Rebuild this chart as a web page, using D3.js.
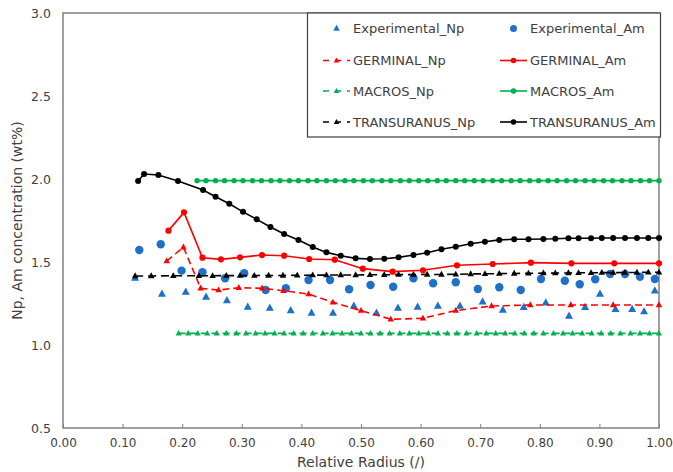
<!DOCTYPE html>
<html><head><meta charset="utf-8">
<script src="https://cdn.jsdelivr.net/npm/d3@7"></script>
<style>body{margin:0;background:#fff}svg text{font-family:"DejaVu Sans",Verdana,sans-serif}</style>
</head><body><svg id="c" width="673" height="472"></svg>
<script>
const xTicks = [0,0.1,0.2,0.3,0.4,0.5,0.6,0.7,0.8,0.9,1.0];
const yTicks = [0.5,1.0,1.5,2.0,2.5,3.0];

const expNpX = [0.121,0.166,0.206,0.240,0.275,0.310,0.347,0.382,0.417,0.453,0.488,0.526,0.562,0.595,0.629,0.666,0.704,0.738,0.773,0.810,0.849,0.876,0.901,0.927,0.955,0.975,0.993];
const expNpY = [1.404,1.307,1.319,1.289,1.268,1.229,1.223,1.208,1.193,1.193,1.235,1.193,1.223,1.229,1.235,1.235,1.261,1.211,1.227,1.255,1.175,1.227,1.307,1.215,1.215,1.201,1.327];

const expAmX = [0.128,0.164,0.199,0.234,0.272,0.304,0.340,0.374,0.412,0.448,0.480,0.516,0.554,0.588,0.621,0.659,0.696,0.732,0.768,0.802,0.842,0.867,0.893,0.918,0.943,0.968,0.993];
const expAmY = [1.572,1.607,1.448,1.438,1.402,1.432,1.331,1.342,1.392,1.392,1.336,1.361,1.351,1.402,1.372,1.378,1.337,1.348,1.331,1.398,1.387,1.366,1.396,1.428,1.428,1.411,1.398];

const gerNpX = [0.174,0.202,0.231,0.261,0.295,0.334,0.370,0.412,0.453,0.500,0.550,0.604,0.659,0.719,0.784,0.852,0.923,1.000];
const gerNpY = [1.506,1.589,1.342,1.331,1.345,1.342,1.327,1.307,1.257,1.207,1.155,1.161,1.207,1.235,1.241,1.241,1.241,1.241];

const gerAmX = [0.177,0.203,0.234,0.265,0.297,0.334,0.371,0.413,0.456,0.503,0.553,0.604,0.661,0.721,0.785,0.853,0.925,1.000];
const gerAmY = [1.689,1.799,1.526,1.516,1.528,1.542,1.538,1.518,1.514,1.460,1.442,1.450,1.480,1.488,1.496,1.492,1.492,1.492];

const macNpX = [0.194,0.210,0.226,0.242,0.258,0.274,0.291,0.307,0.323,0.339,0.355,0.371,0.387,0.403,0.419,0.436,0.452,0.468,0.484,0.500,0.516,0.532,0.548,0.565,0.581,0.597,0.613,0.629,0.645,0.661,0.677,0.694,0.710,0.726,0.742,0.758,0.774,0.790,0.806,0.823,0.839,0.855,0.871,0.887,0.903,0.919,0.935,0.952,0.968,0.984,1.000];
const macNpY = [1.07,1.07,1.07,1.07,1.07,1.07,1.07,1.07,1.07,1.07,1.07,1.07,1.07,1.07,1.07,1.07,1.07,1.07,1.07,1.07,1.07,1.07,1.07,1.07,1.07,1.07,1.07,1.07,1.07,1.07,1.07,1.07,1.07,1.07,1.07,1.07,1.07,1.07,1.07,1.07,1.07,1.07,1.07,1.07,1.07,1.07,1.07,1.07,1.07,1.07,1.07];

const macAmX = [0.225,0.240,0.256,0.271,0.287,0.302,0.318,0.333,0.349,0.364,0.380,0.395,0.411,0.426,0.442,0.457,0.473,0.488,0.504,0.519,0.535,0.550,0.566,0.581,0.597,0.612,0.628,0.643,0.659,0.674,0.690,0.705,0.721,0.736,0.752,0.767,0.783,0.798,0.814,0.829,0.845,0.860,0.876,0.891,0.907,0.922,0.938,0.953,0.969,0.984,1.000];
const macAmY = [1.99,1.99,1.99,1.99,1.99,1.99,1.99,1.99,1.99,1.99,1.99,1.99,1.99,1.99,1.99,1.99,1.99,1.99,1.99,1.99,1.99,1.99,1.99,1.99,1.99,1.99,1.99,1.99,1.99,1.99,1.99,1.99,1.99,1.99,1.99,1.99,1.99,1.99,1.99,1.99,1.99,1.99,1.99,1.99,1.99,1.99,1.99,1.99,1.99,1.99,1.99];

const truNpX = [0.121,0.148,0.185,0.228,0.251,0.274,0.297,0.321,0.345,0.369,0.393,0.419,0.442,0.466,0.491,0.515,0.539,0.563,0.588,0.611,0.635,0.659,0.684,0.708,0.732,0.757,0.781,0.806,0.826,0.848,0.865,0.886,0.904,0.923,0.943,0.963,0.982,1.000];
const truNpY = [1.416,1.416,1.417,1.417,1.417,1.418,1.418,1.418,1.419,1.419,1.420,1.421,1.421,1.422,1.422,1.423,1.423,1.424,1.424,1.425,1.425,1.426,1.428,1.429,1.430,1.431,1.432,1.433,1.433,1.434,1.435,1.435,1.436,1.436,1.437,1.437,1.438,1.438];

const truAmX = [0.126,0.136,0.160,0.193,0.235,0.256,0.279,0.302,0.325,0.348,0.371,0.395,0.419,0.442,0.466,0.491,0.515,0.539,0.563,0.588,0.611,0.635,0.659,0.684,0.708,0.732,0.757,0.781,0.806,0.826,0.848,0.865,0.886,0.904,0.923,0.943,0.963,0.982,1.000];
const truAmY = [1.988,2.030,2.024,1.988,1.934,1.893,1.851,1.802,1.757,1.711,1.669,1.633,1.590,1.558,1.538,1.522,1.518,1.520,1.528,1.542,1.556,1.577,1.592,1.610,1.622,1.633,1.637,1.637,1.639,1.640,1.643,1.643,1.643,1.645,1.645,1.645,1.645,1.645,1.645];

const BLUE = "#1f70c8", RED = "#ff0000", GREEN = "#00b050", BLACK = "#000000";
const series = [
  {name:"Experimental_Np", xs:expNpX, ys:expNpY, color:BLUE, line:false, marker:"tri", size:8},
  {name:"Experimental_Am", xs:expAmX, ys:expAmY, color:BLUE, line:false, marker:"circ", size:4.2},
  {name:"GERMINAL_Np", xs:gerNpX, ys:gerNpY, color:RED, line:true, dash:"7,4", marker:"tri", size:6.5},
  {name:"GERMINAL_Am", xs:gerAmX, ys:gerAmY, color:RED, line:true, marker:"circ", size:3.1},
  {name:"MACROS_Np", xs:macNpX, ys:macNpY, color:GREEN, line:true, dash:"7,4", marker:"tri", size:6},
  {name:"MACROS_Am", xs:macAmX, ys:macAmY, color:GREEN, line:true, marker:"circ", size:2.7},
  {name:"TRANSURANUS_Np", xs:truNpX, ys:truNpY, color:BLACK, line:true, dash:"8,5", marker:"tri", size:6.5},
  {name:"TRANSURANUS_Am", xs:truAmX, ys:truAmY, color:BLACK, line:true, marker:"circ", size:3}
];

const W = 673, H = 472;
const m = {left:63, right:14, top:13, bottom:44};
const svg = d3.select("#c");
const x = d3.scaleLinear().domain([0,1]).range([m.left, W - m.right]);
const y = d3.scaleLinear().domain([0.5,3.0]).range([H - m.bottom, m.top]);
const TXT = "#404040", AX = "#808080";

// axes
const xAxis = d3.axisBottom(x).tickValues(xTicks).tickFormat(d3.format(".2f")).tickSizeInner(-4).tickSizeOuter(0).tickPadding(10);
const gx = svg.append("g").attr("transform",`translate(0,${H - m.bottom})`).call(xAxis);
gx.select(".domain").remove();
gx.selectAll("line").attr("stroke",AX).attr("stroke-width",1);
gx.selectAll("text").attr("fill",TXT).style("font-size","12px");

const yAxis = d3.axisLeft(y).tickValues(yTicks).tickFormat(d3.format(".1f")).tickSize(0).tickPadding(12);
const gy = svg.append("g").attr("transform",`translate(${m.left},0)`).call(yAxis);
gy.select(".domain").remove();
gy.selectAll("text").attr("fill",TXT).style("font-size","12.5px");

// frame
svg.append("rect").attr("x",m.left).attr("y",m.top).attr("width",W-m.right-m.left).attr("height",H-m.bottom-m.top)
  .attr("fill","none").attr("stroke",AX).attr("stroke-width",1.5);

svg.append("text").attr("x",(m.left + W - m.right)/2).attr("y",467).attr("text-anchor","middle")
  .attr("fill",TXT).style("font-size","14px").text("Relative Radius (/)");
svg.append("text").attr("transform",`translate(22,${(m.top + H - m.bottom)/2}) rotate(-90)`).attr("text-anchor","middle")
  .attr("fill",TXT).style("font-size","14px").text("Np, Am concentration (wt%)");

function triPath(s){ const h = s*0.9; return `M0,${-h*0.62}L${s/2},${h*0.38}L${-s/2},${h*0.38}Z`; }
function drawMarker(g, mk, size, color){
  if (mk === "tri") g.append("path").attr("d", triPath(size)).attr("fill", color);
  else g.append("circle").attr("r", size).attr("fill", color);
}

const plot = svg.append("g");
series.forEach(s => {
  const pts = s.xs.map((v,i) => [v, s.ys[i]]);
  if (s.line) {
    plot.append("path").datum(pts)
      .attr("d", d3.line().x(d => x(d[0])).y(d => y(d[1])))
      .attr("fill","none").attr("stroke", s.color).attr("stroke-width", 1.6)
      .attr("stroke-dasharray", s.dash || null);
  }
  const g = plot.append("g");
  pts.forEach(d => {
    const mg = g.append("g").attr("transform",`translate(${x(d[0])},${y(d[1])})`);
    drawMarker(mg, s.marker, s.size, s.color);
  });
});

// legend
const lg = svg.append("g");
lg.append("rect").attr("x",307.5).attr("y",13).attr("width",353).attr("height",124)
  .attr("fill","#fff").attr("stroke","#404040").attr("stroke-width",1.2);
const rowsY = [28.5, 60.5, 91, 122];
const colX = [[323,350,353],[500,527,530]];
series.forEach((s,i) => {
  const col = i % 2, row = Math.floor(i/2);
  const [x0,x1,tx] = colX[col];
  const cy = rowsY[row];
  if (s.line) lg.append("line").attr("x1",x0).attr("x2",x1).attr("y1",cy).attr("y2",cy)
    .attr("stroke",s.color).attr("stroke-width",1.6).attr("stroke-dasharray", s.dash ? "6,6" : null);
  const mg = lg.append("g").attr("transform",`translate(${(x0+x1)/2},${cy})`);
  const sz = s.marker === "tri" ? 5.5 : 2.8;
  drawMarker(mg, s.marker, s.line ? sz : (s.marker==="tri"?6.5:3.5), s.color);
  lg.append("text").attr("x",tx).attr("y",cy).attr("dy","0.35em").attr("fill","#404040")
    .style("font-size","13px").text(s.name);
});
</script></body></html>
